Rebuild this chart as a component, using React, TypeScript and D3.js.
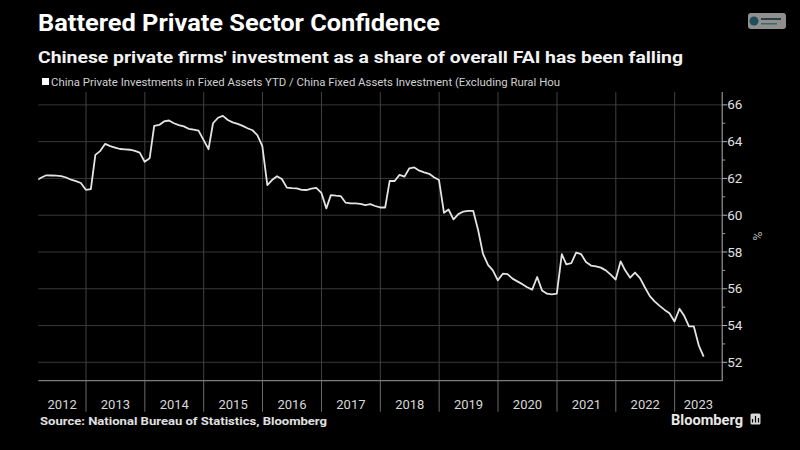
import React from "react";
import * as d3 from "d3";

// Monthly YTD share (%), Feb 2012 .. Jun 2023 (end-of-month)
const values2012 = [61.9, 62.05, 62.17, 62.16, 62.15, 62.13, 62.05, 61.93, 61.85, 61.75, 61.38];
const values2013 = [61.42, 63.28, 63.5, 63.88, 63.76, 63.68, 63.6, 63.58, 63.56, 63.5, 63.4, 62.91];
const values2014 = [63.1, 64.86, 64.91, 65.1, 65.15, 65.0, 64.9, 64.83, 64.7, 64.65, 64.6, 64.1];
const values2015 = [63.59, 65.0, 65.3, 65.4, 65.18, 65.05, 64.97, 64.86, 64.73, 64.62, 64.35, 63.75];
const values2016 = [61.64, 61.91, 62.12, 61.97, 61.5, 61.47, 61.46, 61.38, 61.37, 61.44, 61.49, 61.22];
const values2017 = [60.37, 61.09, 61.06, 61.04, 60.68, 60.64, 60.64, 60.62, 60.55, 60.6, 60.5, 60.42];
const values2018 = [60.42, 61.87, 61.86, 62.19, 62.1, 62.55, 62.6, 62.42, 62.33, 62.25, 62.06, 61.91];
const values2019 = [60.13, 60.31, 59.77, 60.06, 60.2, 60.24, 60.24, 59.18, 57.9, 57.3, 57.0, 56.46];
const values2020 = [56.82, 56.8, 56.55, 56.4, 56.25, 56.08, 55.95, 56.64, 55.91, 55.73, 55.7, 55.73];
const values2021 = [57.88, 57.33, 57.4, 57.97, 57.88, 57.46, 57.26, 57.22, 57.15, 57.0, 56.77, 56.5];
const values2022 = [57.49, 57.0, 56.6, 56.88, 56.58, 56.08, 55.6, 55.3, 55.07, 54.85, 54.67, 54.22];
const values2023 = [54.91, 54.55, 53.95, 53.95, 52.91, 52.31];

const seriesValues = [
  ...values2012, ...values2013, ...values2014, ...values2015, ...values2016, ...values2017,
  ...values2018, ...values2019, ...values2020, ...values2021, ...values2022, ...values2023,
];

const yearLabels = ["2012", "2013", "2014", "2015", "2016", "2017", "2018", "2019", "2020", "2021", "2022", "2023"];
const yTicks = [52, 54, 56, 58, 60, 62, 64, 66];
const yMinorTicks = [53, 55, 57, 59, 61, 63, 65];

const title = "Battered Private Sector Confidence";
const subtitle = "Chinese private firms' investment as a share of overall FAI has been falling";
const legendLabel = "China Private Investments in Fixed Assets YTD / China Fixed Assets Investment (Excluding Rural Hou";
const sourceText = "Source: National Bureau of Statistics, Bloomberg";

const W = 800;
const H = 450;
const left = 38.3;
const right = 722.2;
const top = 92;
const bottom = 380.7;

export default function App() {
  if (typeof document !== "undefined") {
    document.body.style.margin = "0";
    document.body.style.background = "#000";
  }
  const x = d3.scaleTime().domain([new Date(2012, 2, 11), new Date(2023, 9, 23)]).range([left, right]);
  const y = d3.scaleLinear().domain([51, 66.7]).range([bottom, top]);

  const data = seriesValues.map((v, i) => ({ date: new Date(2012, 2 + i, 0), v }));
  const line = d3
    .line<{ date: Date; v: number }>()
    .x((d) => x(d.date))
    .y((d) => y(d.v));

  const boundaries = yearLabels.slice(1).map((yr) => new Date(+yr, 0, 1));
  const yearCenters = yearLabels.map((yr) => {
    const a = Math.max(left, x(new Date(+yr, 0, 1)));
    const b = Math.min(right, x(new Date(+yr + 1, 0, 1)));
    return (a + b) / 2;
  });

  const font = "Roboto, 'Open Sans', sans-serif";

  return (
    <svg width={W} height={H} style={{ position: "absolute", left: 0, top: 0, background: "#000" }}>
      <rect x={0} y={0} width={W} height={H} fill="#000" />
      <defs>
        <clipPath id="plot">
          <rect x={left} y={top - 5} width={right - left} height={bottom - top + 5} />
        </clipPath>
      </defs>

      {/* titles */}
      <text x={38} y={31} fill="#fff" fontFamily={font} fontWeight={700} fontSize={23}
        textLength={402} lengthAdjust="spacingAndGlyphs">{title}</text>
      <text x={38} y={63} fill="#f2f2f2" fontFamily={font} fontWeight={700} fontSize={17}
        textLength={645} lengthAdjust="spacingAndGlyphs">{subtitle}</text>

      {/* legend */}
      <rect x={42} y={78} width={7} height={7} fill="#fff" />
      <text x={51} y={86} fill="#d0d0d0" fontFamily={font} fontSize={11}
        textLength={509} lengthAdjust="spacingAndGlyphs">{legendLabel}</text>

      {/* top-right badge */}
      <rect x={748} y={13} width={38} height={16} rx={3} fill="#8f8f8f" />
      <circle cx={754} cy={21} r={4.5} fill="#1f4f5a" />
      <rect x={761} y={18} width={20} height={2} fill="#2e3f4a" />
      <rect x={761} y={23} width={16} height={1.5} fill="#3d6a5a" />

      {/* horizontal gridlines */}
      {yTicks.map((t) => (
        <line key={"h" + t} x1={left} x2={right} y1={y(t)} y2={y(t)} stroke="#383838" strokeWidth={1} />
      ))}
      {/* vertical gridlines */}
      {boundaries.map((d, i) => (
        <line key={"v" + i} x1={x(d)} x2={x(d)} y1={top} y2={bottom} stroke="#404040" strokeWidth={1} />
      ))}

      {/* x axis */}
      <line x1={left} x2={right + 0.5} y1={bottom} y2={bottom} stroke="#9a9a9a" strokeWidth={1} />
      {boundaries.map((d, i) => (
        <line key={"xt" + i} x1={x(d)} x2={x(d)} y1={bottom} y2={411.7} stroke="#6a6a6a" strokeWidth={1} />
      ))}
      {yearLabels.map((yr, i) => (
        <text key={yr} x={yearCenters[i]} y={409} textAnchor="middle" fill="#d8d8d8" fontFamily={font} fontSize={13}>
          {yr}
        </text>
      ))}

      {/* y axis */}
      <line x1={right} x2={right} y1={top} y2={bottom} stroke="#b0b0b0" strokeWidth={1} />
      {yTicks.map((t) => (
        <g key={"yt" + t}>
          <line x1={right} x2={right + 5} y1={y(t)} y2={y(t)} stroke="#b0b0b0" strokeWidth={1} />
          <text x={right + 5} y={y(t) + 4.6} fill="#e0e0e0" fontFamily={font} fontSize={13.5}>
            {t}
          </text>
        </g>
      ))}
      {yMinorTicks.map((t) => (
        <line key={"ym" + t} x1={right} x2={right + 3} y1={y(t)} y2={y(t)} stroke="#9a9a9a" strokeWidth={1} />
      ))}
      <text x={0} y={0} transform={`translate(753, 236) rotate(90)`} textAnchor="middle" fill="#bbbbbb"
        fontFamily={font} fontSize={12.5}>%</text>

      {/* series line */}
      <path d={line(data) || ""} fill="none" stroke="#e4e4e4" strokeWidth={1.8} strokeLinejoin="round"
        clipPath="url(#plot)" />

      {/* footer */}
      <text x={40} y={425} fill="#e0e0e0" fontFamily={font} fontWeight={700} fontSize={11}
        textLength={287} lengthAdjust="spacingAndGlyphs">{sourceText}</text>
      <text x={671} y={424.5} fill="#e8e8e8" fontFamily={font} fontWeight={700} fontSize={15}
        textLength={72} lengthAdjust="spacingAndGlyphs">Bloomberg</text>
      <rect x={750.5} y={413.5} width={10} height={11} rx={1.5} fill="#d8d8d8" />
      <path d="M752.5 422.5 L752.5 419 M755.5 422.5 L755.5 416 M758.5 422.5 L758.5 418" stroke="#000" strokeWidth={1.2} />
    </svg>
  );
}
